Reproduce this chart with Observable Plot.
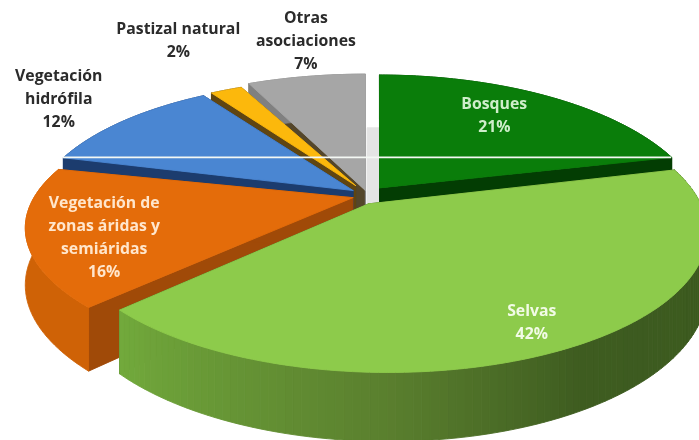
<!DOCTYPE html>
<html><head><meta charset="utf-8">
<style>html,body{margin:0;padding:0;background:#fff}svg{display:block;filter:blur(0.55px)}</style>
<script src="https://cdn.jsdelivr.net/npm/d3@7"></script>
<script src="https://cdn.jsdelivr.net/npm/@observablehq/plot@0.6"></script>
</head><body><script>
const categories = ["Bosques","Selvas","Vegetación de\nzonas áridas y\nsemiáridas","Vegetación\nhidrófila","Pastizal natural","Otras\nasociaciones"];
const values = [21,42,16,12,2,7];

// perspective disc model
const CX=368, CY=190, R=310, RK=131, P=0.2, DEPTH=54;
const rimShift=[[.043,0],[.05,-.087],[.046,-.08],[-.11,.019],[-.07,.03],[-.012,-.02]];
const radU=[1.019,1,1.114,.956,.98,1.054];
const radV=[1.07,1,.99,.98,1,1.1];
const apex=[[.036,.02],[0,-.1],[-.05,-.054],[-.05,0],[-.042,.038],[-.01,0]];
const topCol=["#0a7d0a","#8dcb4b","#e46c0a","#4a86d2","#fcb80c","#a6a6a6"];
const cutCol=[["#033d03","#033d03"],["#3b5a1e","#3b5a1e"],["#a04a08","#a04a08"],["#1c3c6e","#1c3c6e"],["#5f4512","#5f4512"],["#54462a","#8a8a8a"]];
const rimCol=["#033d03",null,"#cf6206","#1c3c6e","#5f4512","#808080"];
const labelR=[.793,.946,.863,1.421,1.684,1.508];
const labelDa=[-2.5,1.2,-8.4,-.9,.6,2.6];
const labelCol=["#cfeecb","#f2fbe6","#ffe6cc","#2b2b2b","#2b2b2b","#2b2b2b"];

const rad=d=>d*Math.PI/180;
const proj=(u,v,z=0)=>{const w=1+P*v;return {x:CX+R*u/w,y:CY-RK*v/w+DEPTH*z/w};};
const total=d3.sum(values);
let acc=0;
const slices=values.map((val,i)=>{const a0=acc/total*360;acc+=val;return {i,a0,a1:acc/total*360};});
const rim=(s,a,z=0)=>proj(rimShift[s.i][0]+radU[s.i]*Math.sin(rad(a)),rimShift[s.i][1]+radV[s.i]*Math.cos(rad(a)),z);
const hub=(s,z=0)=>proj(apex[s.i][0],apex[s.i][1],z);

const shapes=[];let nid=0;
const poly=(pts,color)=>{const id=nid++;[...pts,pts[0]].forEach(p=>shapes.push({id,x:p.x,y:p.y,color}));};
const arcAngles=(s,n=120)=>d3.range(n+1).map(t=>s.a0+(s.a1-s.a0)*t/n);
const selvasSide=d3.scaleLinear().domain([227,180,150,75]).range(["#72aa3c","#5a7f2e","#3e5c20","#3a581e"]);

function drawSlice(s){
  const i=s.i;
  [s.a0,s.a1].forEach((a,k)=>poly([hub(s),rim(s,a),rim(s,a,1),hub(s,1)],cutCol[i][k]));
  const as=arcAngles(s);
  if(i===1){
    for(let j=0;j<as.length-1;j++){
      const a=as[j],b=as[j+1];
      poly([rim(s,a),rim(s,b),rim(s,b,1),rim(s,a,1)],selvasSide((a+b)/2));
    }
  } else {
    poly([...as.map(a=>rim(s,a)),...as.slice().reverse().map(a=>rim(s,a,1))],rimCol[i]);
  }
  poly([hub(s),...as.map(a=>rim(s,a))],topCol[i]);
}
// pale inner wall visible through the gap between Otras and Bosques
poly([proj(-.005,-.1),proj(.04,-.1),proj(.04,.53),proj(-.005,.53)],"#e4e4e4");
[5,4,3,0,2,1].forEach(i=>drawSlice(slices[i]));

const labels=slices.map(s=>{const b=(s.a0+s.a1)/2+labelDa[s.i];
  const r=labelR[s.i];
  const p=proj(r*Math.sin(rad(b)),r*Math.cos(rad(b)));
  return {x:p.x,y:p.y,text:`${categories[s.i]}\n${values[s.i]}%`,color:labelCol[s.i]};});

const leftTip=rim(slices[3],slices[3].a0), rightTip=rim(slices[0],slices[0].a1);

const chart=Plot.plot({
  width:699,height:440,margin:0,
  x:{domain:[0,699],range:[0,699],axis:null},
  y:{domain:[0,440],range:[0,440],axis:null},
  color:{type:"identity"},
  marks:[
    Plot.line(shapes,{x:"x",y:"y",z:"id",fill:"color",stroke:"color",strokeWidth:.9,curve:"linear"}),
    Plot.ruleY([rightTip.y],{x1:leftTip.x,x2:rightTip.x,stroke:"#f4f8f4",strokeWidth:1.6}),
    Plot.text(labels,{x:"x",y:"y",dy:-2,text:"text",fill:"color",fontFamily:"Open Sans",fontWeight:700,fontSize:15.8,lineHeight:1.456,lineAnchor:"middle",textAnchor:"middle"})
  ]
});
document.body.appendChild(chart);
</script></body></html>
